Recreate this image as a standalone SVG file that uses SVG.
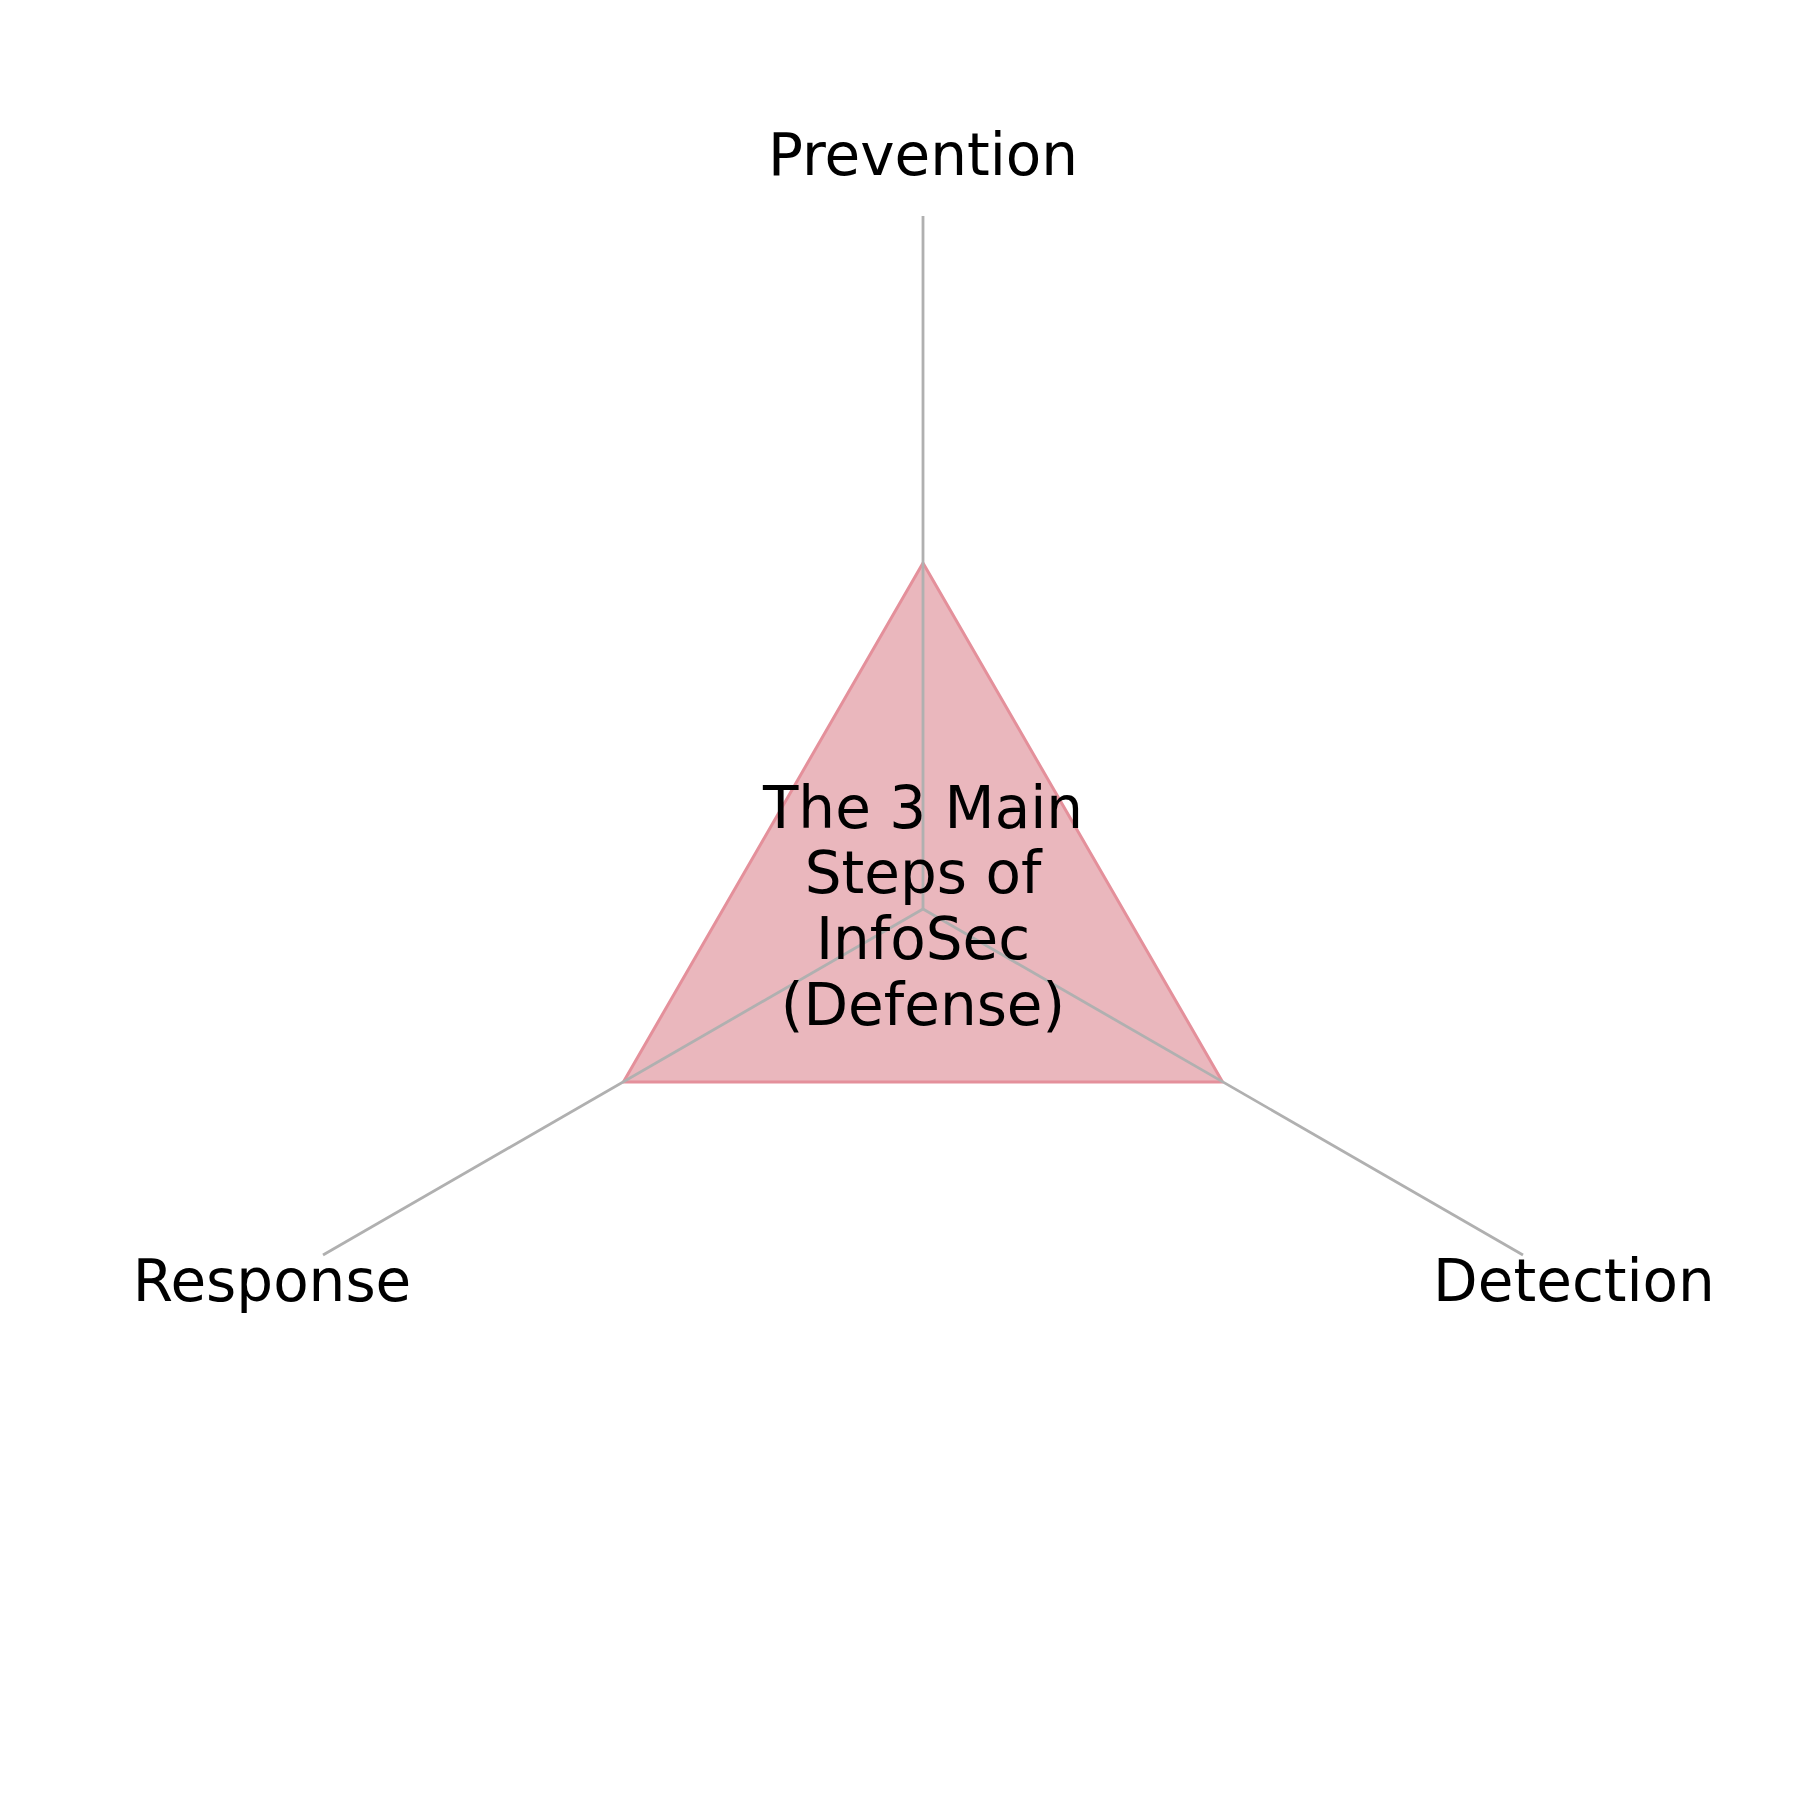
<svg xmlns="http://www.w3.org/2000/svg" width="1800" height="1800" viewBox="0 0 1800 1800">
<style>
.axis{stroke:#b0b0b0;stroke-width:2.8;fill:none}
.tri{fill:#eab7bd;stroke:#e4909b;stroke-width:3;stroke-linejoin:round}
.lbl{font-family:"DejaVu Sans",sans-serif;font-size:58px;fill:#000;text-anchor:middle}
</style>
<rect width="1800" height="1800" fill="#fff"/>
<g id="shape">
<polygon class="tri" points="923,563 623.4,1082 1222.6,1082"/>
</g>
<g id="connectors">
<line class="axis" x1="923" y1="909" x2="923" y2="216"/>
<line class="axis" x1="923" y1="909" x2="323" y2="1255"/>
<line class="axis" x1="923" y1="909" x2="1523" y2="1255"/>
</g>
<g id="center">
<text class="lbl" x="923" y="828">The 3 Main</text>
<text class="lbl" x="923" y="893">Steps of</text>
<text class="lbl" x="923" y="959">InfoSec</text>
<text class="lbl" x="923" y="1025">(Defense)</text>
</g>
<g id="prevention"><text class="lbl" x="923" y="175">Prevention</text></g>
<g id="response"><text class="lbl" x="272" y="1301">Response</text></g>
<g id="detection"><text class="lbl" x="1574" y="1301">Detection</text></g>
</svg>
